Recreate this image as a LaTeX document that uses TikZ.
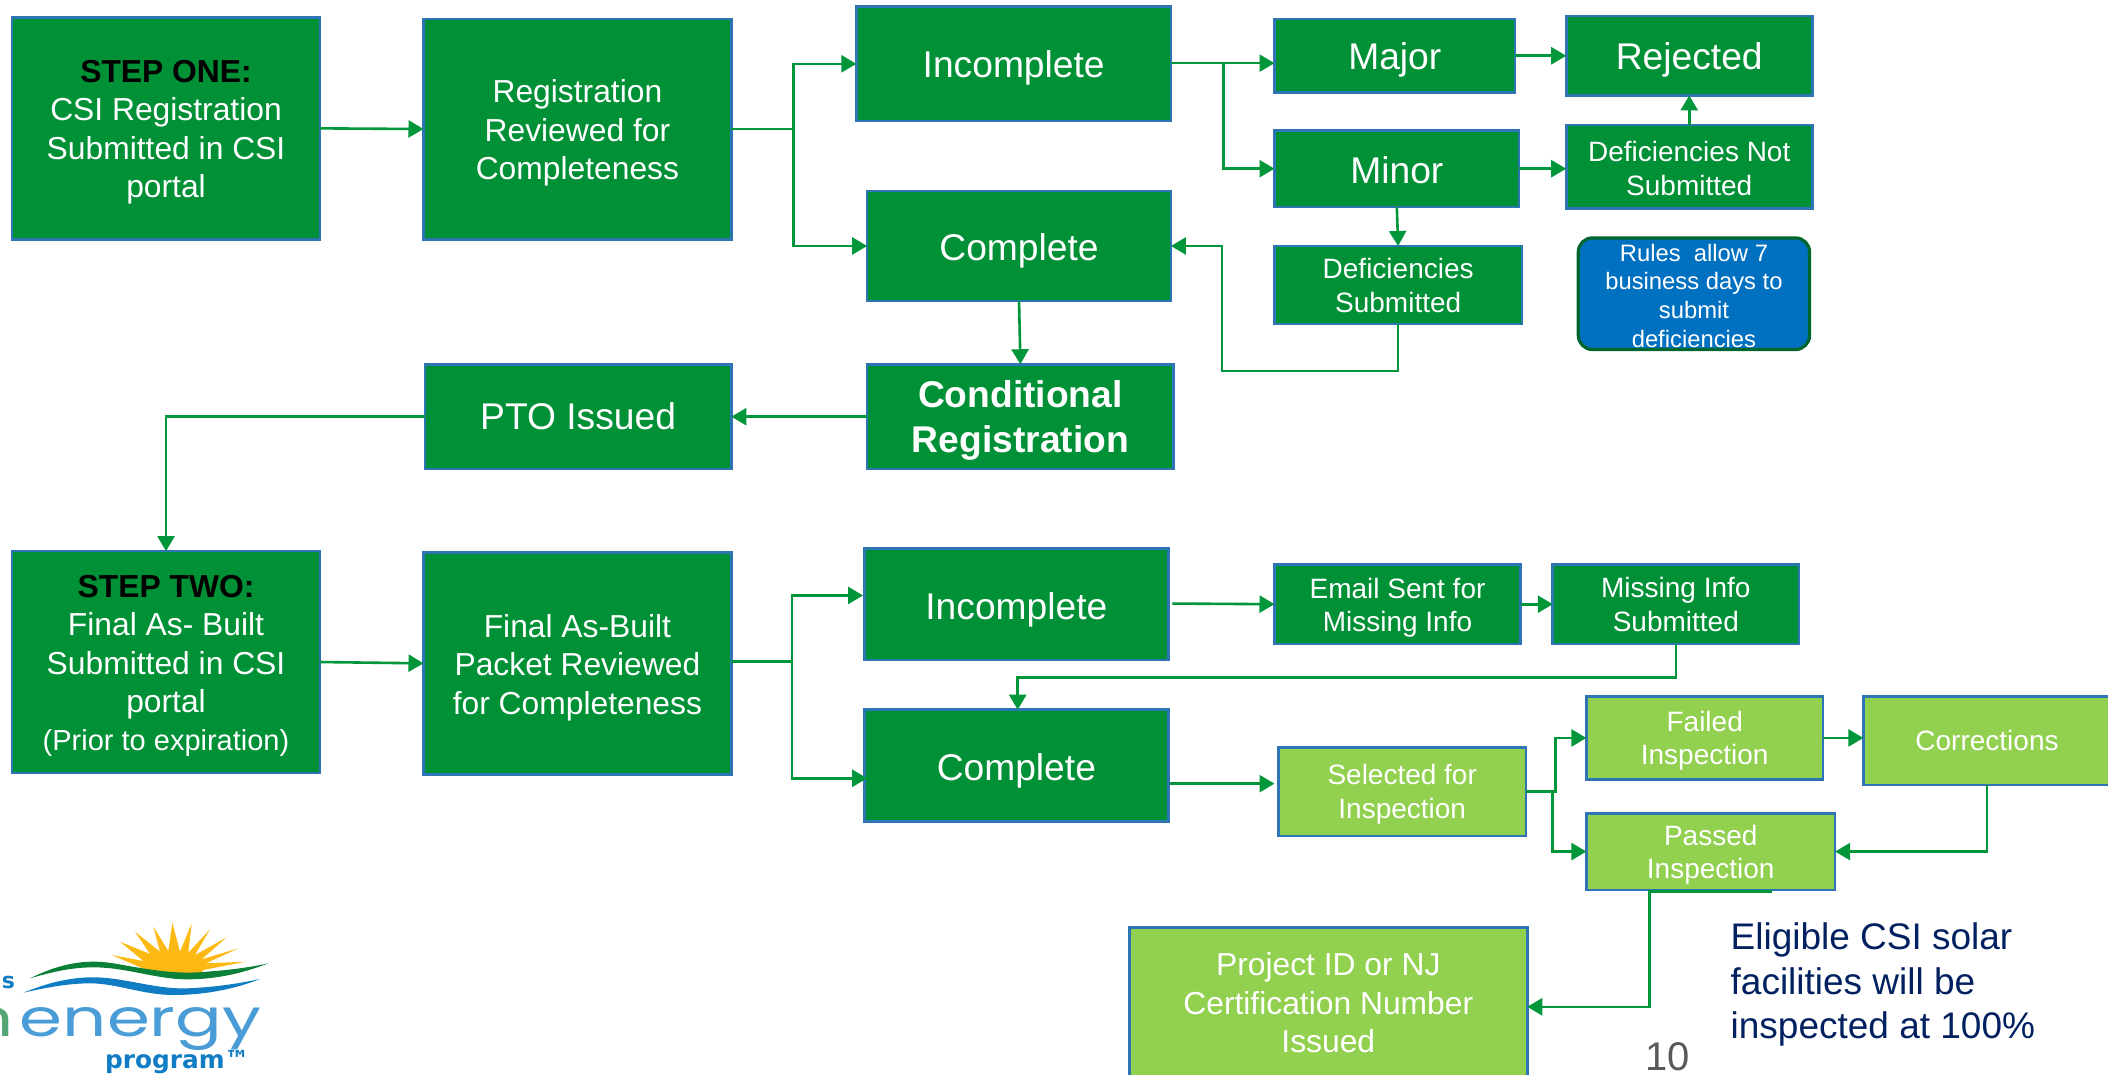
\documentclass[tikz,border=0pt]{standalone}
\usepackage{fontspec}
\setmainfont{Liberation Sans}
\newfontfamily\logofont{Poppins}
\newfontfamily\logobold{DejaVu Sans}
\usetikzlibrary{arrows.meta}
\definecolor{dkgreen}{HTML}{009036}
\definecolor{ltgreen}{HTML}{92D050}
\definecolor{edgeblue}{HTML}{2E75B6}
\definecolor{linegreen}{HTML}{009639}
\definecolor{rulesblue}{HTML}{0070C0}
\definecolor{rulesedge}{HTML}{00662F}
\definecolor{navytxt}{HTML}{002060}
\definecolor{logoblue}{HTML}{0F7CC4}
\definecolor{logolight}{HTML}{4A9CD6}
\definecolor{logogreen}{HTML}{0B8038}
\definecolor{logosun}{HTML}{FDB913}
\newcommand{\fsBig}{\fontsize{18.6}{22.5}\selectfont}
\newcommand{\fsMid}{\fontsize{15.9}{19.2}\selectfont}
\newcommand{\fsSml}{\fontsize{14}{16.8}\selectfont}
\newcommand{\fsRul}{\fontsize{11.9}{14.4}\selectfont}
% \bx{style}{name}{x1}{y1}{x2}{y2}{text shift down}{text}
\newcommand{\bx}[8]{\node[#1,minimum width={(#5-#3)*0.6722pt},minimum height={(#6-#4)*0.6721pt}] (#2) at ({(#3+#5)/2},{(#4+#6)/2}) {};
\node[#1,draw=none,fill=none,yshift={(#7)*(-0.6721pt)}] (#2-label) at (#2.center) {#8};}
\tikzset{
  flowbox/.style={draw=edgeblue,line width=1.3pt,inner sep=0pt,outer sep=0pt,align=center,text=white},
  darkbox/.style={flowbox,fill=dkgreen},
  lightbox/.style={flowbox,fill=ltgreen},
  rulesbox/.style={draw=rulesedge,line width=1.6pt,fill=rulesblue,rounded corners=7pt,inner sep=0pt,outer sep=0pt,align=center,text=white,font=\fsRul},
  conn/.style={draw=linegreen,line width=1.3pt,-{Triangle[length=7.5pt,width=8.5pt]}},
  plainline/.style={draw=linegreen,line width=1.3pt}
}
\begin{document}
\begin{tikzpicture}[x=0.6722pt,y=-0.6721pt]
\useasboundingbox (0,0) rectangle (1568,799);
% first row
\bx{darkbox,font=\fsMid}{sone}{9}{13}{238}{178}{3}{\textcolor{black}{\bfseries STEP ONE:}\\CSI Registration\\Submitted in CSI\\portal}
\bx{darkbox,font=\fsMid}{reg}{315}{14}{544}{178}{3}{Registration\\Reviewed for\\Completeness}
\bx{darkbox,font=\fsBig}{incA}{637}{5}{871}{90}{3}{Incomplete}
\bx{darkbox,font=\fsBig}{compA}{645}{142}{871}{224}{4}{Complete}
\bx{darkbox,font=\fsBig}{major}{948}{14}{1127}{69}{3}{Major}
\bx{darkbox,font=\fsBig}{minor}{948}{97}{1130}{154}{1}{Minor}
\bx{darkbox,font=\fsBig}{rejected}{1165}{12}{1348}{71}{3}{Rejected}
\bx{darkbox,font=\fsSml}{defnot}{1165}{93}{1348}{155}{1.5}{Deficiencies Not\\Submitted}
\bx{darkbox,font=\fsSml}{defsub}{948}{183}{1132}{241}{0.5}{Deficiencies\\Submitted}
\bx{rulesbox}{rules}{1174}{177}{1346}{260}{1.5}{Rules\ \ allow 7\\business days to\\submit\\deficiencies}
\bx{darkbox,font=\fsBig\bfseries}{cond}{645}{271}{873}{349}{3}{Conditional\\Registration}
\bx{darkbox,font=\fsBig}{pto}{316}{271}{544}{349}{0}{PTO Issued}
% second row
\bx{darkbox,font=\fsMid}{stwo}{9}{410}{238}{575}{3}{\textcolor{black}{\bfseries STEP TWO:}\\Final As- Built\\Submitted in CSI\\portal\\{\fontsize{14.5}{19}\selectfont (Prior to expiration)}}
\bx{darkbox,font=\fsMid}{final}{315}{411}{544}{576}{3}{Final As-Built\\Packet Reviewed\\for Completeness}
\bx{darkbox,font=\fsBig}{incB}{643}{408}{869}{491}{4}{Incomplete}
\bx{darkbox,font=\fsBig}{compB}{643}{528}{869}{611}{4}{Complete}
\bx{darkbox,font=\fsSml}{email}{948}{420}{1131}{479}{2.5}{Email Sent for\\Missing Info}
\bx{darkbox,font=\fsSml}{missing}{1155}{420}{1338}{479}{0}{Missing Info\\Submitted}
\bx{lightbox,font=\fsSml}{selected}{951}{556}{1135}{622}{2}{Selected for\\Inspection}
\bx{lightbox,font=\fsSml}{failed}{1180}{518}{1356}{580}{2}{Failed\\Inspection}
\bx{lightbox,font=\fsSml}{corr}{1386}{518}{1570}{584}{0}{Corrections}
\bx{lightbox,font=\fsSml}{passed}{1180}{605}{1365}{662}{2.5}{Passed\\Inspection}
\bx{lightbox,font=\fsMid}{project}{840}{690}{1136}{802}{0}{Project ID or NJ\\Certification Number\\Issued}
% junctions
\coordinate (jA) at (590,96);
\coordinate (jB) at (910,47);
\coordinate (jC) at (589,492);
\coordinate (jD) at (1157,589);
\coordinate (jE) at (1155,589);
\coordinate (incAout) at (871,47);
\coordinate (incBin) at (642,443);
\coordinate (compBin) at (645,579);
\coordinate (outB) at (870,583);
\coordinate (selIn) at (948,583);
\coordinate (incBout) at (872,449);
\coordinate (passOut) at (1227,662);
\coordinate (passEnd) at (1318,663);
\coordinate (prjIn) at (1136,749);
\coordinate (defOut) at (1040,241);
\coordinate (defCorner) at (909,276);
% connectors
\draw[conn] (sone.east) -- (reg.west);
\draw[conn] (reg.east) -- (jA) |- (incA.west);
\draw[conn] (jA) |- (compA.west);
\draw[conn] (incAout) -- (major.west |- incAout);
\draw[conn] (jB) |- (minor.west);
\draw[conn] (major.east) -- (rejected.west |- major.east);
\draw[conn] (minor.east) -- (defnot.west |- minor.east);
\draw[conn] (defnot.north) -- (rejected.south);
\draw[conn] (minor.south) -- (defsub.north);
\draw[conn] (defOut) |- (defCorner) |- (compA.east);
\draw[conn] (compA.south) -- (cond.north);
\draw[conn] (cond.west) -- (pto.east);
\draw[conn] (pto.west) -| (stwo.north);
\draw[conn] (stwo.east) -- (final.west);
\draw[conn] (final.east |- jC) -- (jC) |- (incBin);
\draw[conn] (jC) |- (compBin);
\draw[conn] (incBout) -- (email.west);
\draw[conn] (email.east) -- (missing.west);
\draw[conn] (missing.south) |- (757,504) -- (compB.north -| 757,504);
\draw[conn] (outB) -- (selIn);
\draw[conn] (selected.east |- jD) -- (jD) |- (failed.west);
\draw[conn] (jE) |- (passed.west);
\draw[conn] (failed.east) -- (corr.west |- failed.east);
\draw[conn] (corr.south) |- (passed.east);
\draw[plainline] (passOut |- passEnd) -- (passEnd);
\draw[conn] (passOut) |- (prjIn);
% free text
\node[anchor=north west,inner sep=0pt,align=left,text=navytxt,font=\fontsize{18.5}{22.4}\selectfont] (note) at (1287,686) {Eligible CSI solar\\facilities will be\\inspected at 100\%};
\node[inner sep=0pt,text=black!65,font=\fontsize{20}{24}\selectfont] (pagenum) at (1240.5,786) {10};
% logo
\begin{scope}[x=0.16667pt,y=-0.16667pt,shift={(0pt,-440pt)}]
\fill[logosun] (335,225)--(430,243)--(360,185)--(450,222)--(405,155)--(480,215)--(460,140)--(505,213)--(517,128)--(540,215)--(575,130)--(565,218)--(630,148)--(585,225)--(680,172)--(605,238)--(715,205)--(618,250)--(738,245)--(610,270)--(600,285)--(440,270)--cycle;
\fill[logogreen] (90,295) .. controls (170,255) and (250,235) .. (340,250) .. controls (430,265) and (520,285) .. (620,275) .. controls (690,270) and (750,262) .. (805,250) .. controls (740,275) and (660,298) .. (560,298) .. controls (470,298) and (380,262) .. (280,262) .. controls (210,262) and (150,278) .. (90,295) -- cycle;
\fill[logoblue] (70,338) .. controls (140,310) and (210,290) .. (290,292) .. controls (380,295) and (470,328) .. (560,325) .. controls (640,322) and (710,312) .. (780,297) .. controls (710,325) and (620,345) .. (520,345) .. controls (430,345) and (350,310) .. (270,310) .. controls (200,310) and (130,325) .. (70,338) -- cycle;
\node[anchor=base east,inner sep=0pt,text=logoblue,font=\logobold\bfseries\fontsize{11}{13}\selectfont] (logoS) at (46,326) {'s};
\node[anchor=base east,inner sep=0pt,text=logogreen!70!white,font=\logofont\fontsize{26}{28}\selectfont,xscale=1.33,transform shape] (logoN) at (42,468) {n};
\node[anchor=base west,inner sep=0pt,text=logolight,font=\logofont\fontsize{26}{28}\selectfont,xscale=1.33,transform shape] (logoE) at (58,468) {energy};
\node[anchor=base,inner sep=0pt,text=logoblue,font=\logobold\bfseries\fontsize{12.4}{15}\selectfont] (logoP) at (532,565) {program™};
\end{scope}
\end{tikzpicture}
\end{document}
